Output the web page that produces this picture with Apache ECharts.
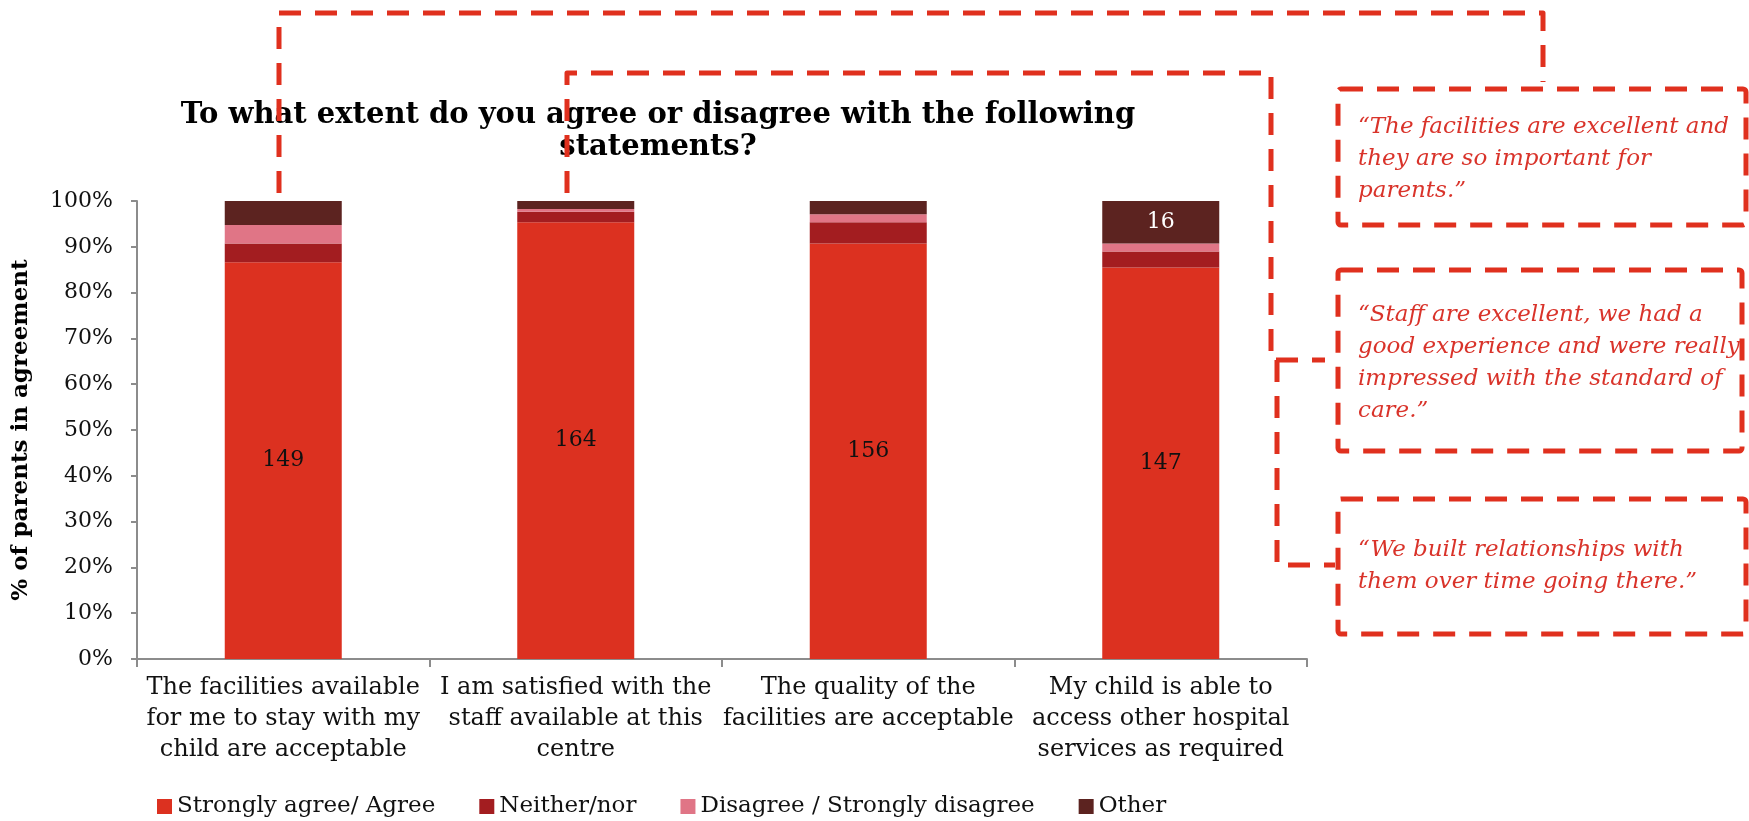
<!DOCTYPE html>
<html>
<head>
<meta charset="utf-8">
<script src="https://cdn.jsdelivr.net/npm/echarts@6/dist/echarts.min.js"></script>
<style>
  html, body { margin: 0; padding: 0; background: #fff; }
  #chart { width: 1749px; height: 821px; }
</style>
</head>
<body>
<div id="chart"></div>
<script>
// Survey statements (x-axis categories)
const categories = [
  'The facilities available\nfor me to stay with my\nchild are acceptable',
  'I am satisfied with the\nstaff available at this\ncentre',
  'The quality of the\nfacilities are acceptable',
  'My child is able to\naccess other hospital\nservices as required'
];

// Number of parents giving each answer, per statement
const agreeCounts    = [149, 164, 156, 147];
const neitherCounts  = [7, 4, 8, 6];
const disagreeCounts = [7, 1, 3, 3];
const otherCounts    = [9, 3, 5, 16];

const seriesNames = ['Strongly agree/ Agree', 'Neither/nor', 'Disagree / Strongly disagree', 'Other'];
const seriesColors = ['#DC3120', '#A31D20', '#E07586', '#5C2320'];

const titleText = 'To what extent do you agree or disagree with the following\nstatements?';
const yAxisName = '% of parents in agreement';

// Parent quotes shown in the callout boxes
const quoteFacilities = '\u201CThe facilities are excellent and\nthey are so important for\nparents.\u201D';
const quoteStaff = '\u201CStaff are excellent, we had a\ngood experience and were really\nimpressed with the standard of\ncare.\u201D';
const quoteRelationships = '\u201CWe built relationships with\nthem over time going there.\u201D';

const SERIF = '"DejaVu Serif", "Liberation Serif", serif';
const RED = '#E0301E';

const allCounts = [agreeCounts, neitherCounts, disagreeCounts, otherCounts];
const totals = categories.map((_, i) => allCounts.reduce((s, arr) => s + arr[i], 0));
const toPercent = counts => counts.map((c, i) => ({ value: c / totals[i] * 100, count: c }));

const chart = echarts.init(document.getElementById('chart'), null, { renderer: 'canvas' });

const labelBase = { fontFamily: SERIF, fontSize: 22 };

const series = allCounts.map((counts, k) => ({
  name: seriesNames[k],
  type: 'bar',
  stack: 'total',
  barWidth: '40%',
  data: toPercent(counts),
  itemStyle: { color: seriesColors[k] },
  label: k === 0 ? {
    show: true, position: 'inside', color: '#111', ...labelBase,
    formatter: p => p.data.count
  } : k === 3 ? {
    show: true, position: 'inside', color: '#fff', ...labelBase,
    formatter: p => (p.data.count / totals[p.dataIndex] > 0.08 ? p.data.count : '')
  } : { show: false }
}));

const dashed = { stroke: RED, lineWidth: 5, lineDash: [22, 14], fill: null, lineJoin: 'round' };

function polyline(points) {
  return { type: 'polyline', z: 100, shape: { points }, style: { ...dashed } };
}
function box(x, y, w, h) {
  return { type: 'rect', z: 100, shape: { x, y, width: w, height: h, r: 3 }, style: { ...dashed } };
}
function quote(x, y, text) {
  return {
    type: 'text', z: 101, x, y,
    style: {
      text, fill: '#D9332A', fontFamily: SERIF, fontStyle: 'italic',
      fontSize: 23, lineHeight: 32, textVerticalAlign: 'top'
    }
  };
}

const option = {
  animation: false,
  backgroundColor: '#fff',
  grid: { left: 137, right: 442, top: 201, bottom: 162 },
  legend: {
    left: 152, top: 790,
    icon: 'rect', itemWidth: 15, itemHeight: 15, itemGap: 44,
    textStyle: { fontFamily: SERIF, fontSize: 23, color: '#111' },
    data: seriesNames
  },
  xAxis: {
    type: 'category',
    data: categories,
    axisLine: { lineStyle: { color: '#8c8c8c', width: 2 } },
    axisTick: { show: true, length: 8, lineStyle: { color: '#8c8c8c', width: 2 } },
    axisLabel: {
      interval: 0, margin: 13, color: '#111',
      fontFamily: SERIF, fontSize: 24, lineHeight: 31
    }
  },
  yAxis: {
    type: 'value',
    min: 0, max: 100, interval: 10,
    name: yAxisName,
    nameLocation: 'middle', nameRotate: 90, nameGap: 104,
    nameTextStyle: { fontFamily: SERIF, fontSize: 23, fontWeight: 'bold', color: '#000' },
    axisLine: { show: true, lineStyle: { color: '#8c8c8c', width: 2 } },
    axisTick: { show: true, length: 6, lineStyle: { color: '#8c8c8c', width: 2 } },
    splitLine: { show: false },
    axisLabel: {
      formatter: '{value}%', margin: 24, color: '#111',
      fontFamily: SERIF, fontSize: 22
    }
  },
  series,
  graphic: [
    {
      type: 'text', z: 50, x: 658, y: 99,
      style: {
        text: titleText, textAlign: 'center', textVerticalAlign: 'top',
        fontFamily: SERIF, fontWeight: 'bold', fontSize: 29, lineHeight: 32, fill: '#000'
      }
    },
    // callout connectors
    polyline([[279, 193], [279, 13], [1543, 13], [1543, 82]]),
    polyline([[567, 193], [567, 73], [1271, 73], [1271, 360], [1325, 360]]),
    polyline([[1277, 360], [1277, 565], [1335, 565]]),
    // callout boxes
    box(1338, 89, 408, 136),
    box(1338, 270, 404, 181),
    box(1338, 499, 408, 135),
    quote(1358, 111, quoteFacilities),
    quote(1358, 299, quoteStaff),
    quote(1358, 534, quoteRelationships)
  ]
};

chart.setOption(option);
</script>
</body>
</html>
